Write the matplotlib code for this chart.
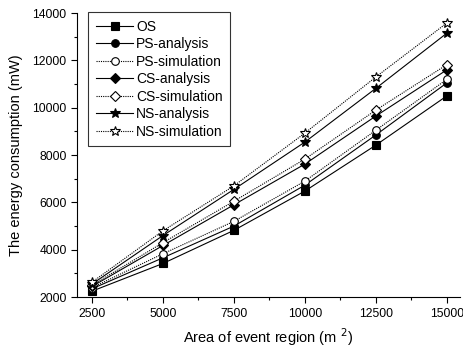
import matplotlib
matplotlib.use("Agg")
import matplotlib.pyplot as plt
from matplotlib.ticker import MultipleLocator

plt.rcParams["font.family"] = ["Liberation Sans", "DejaVu Sans"]

area = [2500, 5000, 7500, 10000, 12500, 15000]

os_vals = [2250, 3420, 4820, 6480, 8420, 10500]
ps_analysis = [2350, 3660, 5000, 6730, 8850, 11050]
ps_simulation = [2400, 3830, 5200, 6900, 9050, 11200]
cs_analysis = [2450, 4180, 5900, 7620, 9650, 11600]
cs_simulation = [2500, 4300, 6050, 7830, 9900, 11820]
ns_analysis = [2550, 4600, 6550, 8550, 10820, 13150]
ns_simulation = [2630, 4800, 6700, 8930, 11300, 13580]

series = [
    ("OS", os_vals, "s", "-", "black"),
    ("PS-analysis", ps_analysis, "o", "-", "black"),
    ("PS-simulation", ps_simulation, "o", (0, (1, 1)), "white"),
    ("CS-analysis", cs_analysis, "D", "-", "black"),
    ("CS-simulation", cs_simulation, "D", (0, (1, 1)), "white"),
    ("NS-analysis", ns_analysis, "*", "-", "black"),
    ("NS-simulation", ns_simulation, "*", (0, (1, 1)), "white"),
]

fig = plt.figure(figsize=(4.64, 3.52), dpi=100)
ax = fig.add_axes([0.166, 0.156, 0.825, 0.807])

for label, vals, mk, ls, fc in series:
    ms = 7 if mk == "*" else 5.5
    if mk == "D":
        ms = 5
    ax.plot(area, vals, linestyle=ls, color="black", linewidth=0.8,
            marker=mk, markersize=ms, markerfacecolor=fc,
            markeredgecolor="black", markeredgewidth=0.8, label=label)

ax.set_xlim(1973, 15456)
ax.set_ylim(2000, 14000)
ax.set_xticks(area)
ax.set_yticks([2000, 4000, 6000, 8000, 10000, 12000, 14000])
ax.xaxis.set_minor_locator(MultipleLocator(1250))
ax.yaxis.set_minor_locator(MultipleLocator(1000))
ax.tick_params(which="major", direction="out", length=4, width=0.8, labelsize=8.7)
ax.tick_params(which="minor", direction="out", length=2, width=0.8)
ax.spines["top"].set_visible(False)
ax.spines["right"].set_visible(False)

ax.set_xlabel("Area of event region (m $^{2}$)", fontsize=10.5, labelpad=5)
ax.set_ylabel("The energy consumption (mW)", fontsize=10.5, labelpad=7)

leg = ax.legend(loc="upper left", bbox_to_anchor=(0.029, 1.003), fontsize=10,
                frameon=True, fancybox=False, edgecolor="black",
                handlelength=2.7, labelspacing=0.25, borderpad=0.55,
                handletextpad=0.2, borderaxespad=0)
leg.get_frame().set_linewidth(0.8)

fig.savefig("out.png", dpi=100)
